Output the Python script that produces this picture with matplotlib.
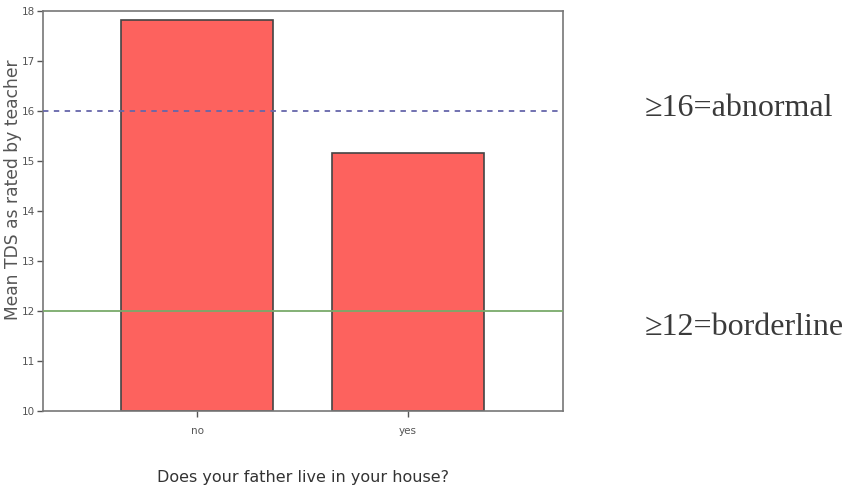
import matplotlib.pyplot as plt

# data
categories = ["no", "yes"]
mean_tds = [17.82, 15.17]
abnormal_cut = 16
borderline_cut = 12
y_ticks = [10, 11, 12, 13, 14, 15, 16, 17, 18]

fig = plt.figure(figsize=(8.52, 4.92), dpi=100)
ax = fig.add_axes([0.0505, 0.1646, 0.6105, 0.813])

x = range(len(categories))
ax.bar(x, [v - 10 for v in mean_tds], bottom=10, width=0.72,
       color="#fd625e", edgecolor="#444444", linewidth=1.2, zorder=2)

ax.axhline(abnormal_cut, color="#6666aa", linestyle=(0, (3, 3)), linewidth=1.3, zorder=3)
ax.axhline(borderline_cut, color="#7aaa6a", linewidth=1.3, zorder=3)

ax.set_xlim(-0.73, 1.735)
ax.set_ylim(10, 18)
ax.set_yticks(y_ticks)
ax.set_yticklabels([str(t) for t in y_ticks])
ax.set_xticks(list(x))
ax.set_xticklabels(categories)

for s in ax.spines.values():
    s.set_color("#777777")
    s.set_linewidth(1.2)
ax.tick_params(axis="both", labelsize=7.5, colors="#555555", length=4, width=1, pad=2)
ax.tick_params(axis="x", pad=7)

ax.set_xlabel("Does your father live in your house?", fontsize=11.5, color="#333333", labelpad=24)
# the reference label sits on top of the tick numbers
ax.set_ylabel("Mean TDS as rated by teacher", fontsize=12.3, color="#555555")
ax.yaxis.set_label_coords(-0.04, 0.553)

fig.text(0.757, 0.78, "\u226516=abnormal", fontsize=23, family="Liberation Serif",
         color="#3a3a3a", va="center")
fig.text(0.757, 0.335, "\u226512=borderline", fontsize=23, family="Liberation Serif",
         color="#3a3a3a", va="center")

fig.savefig("out.png", dpi=100)
